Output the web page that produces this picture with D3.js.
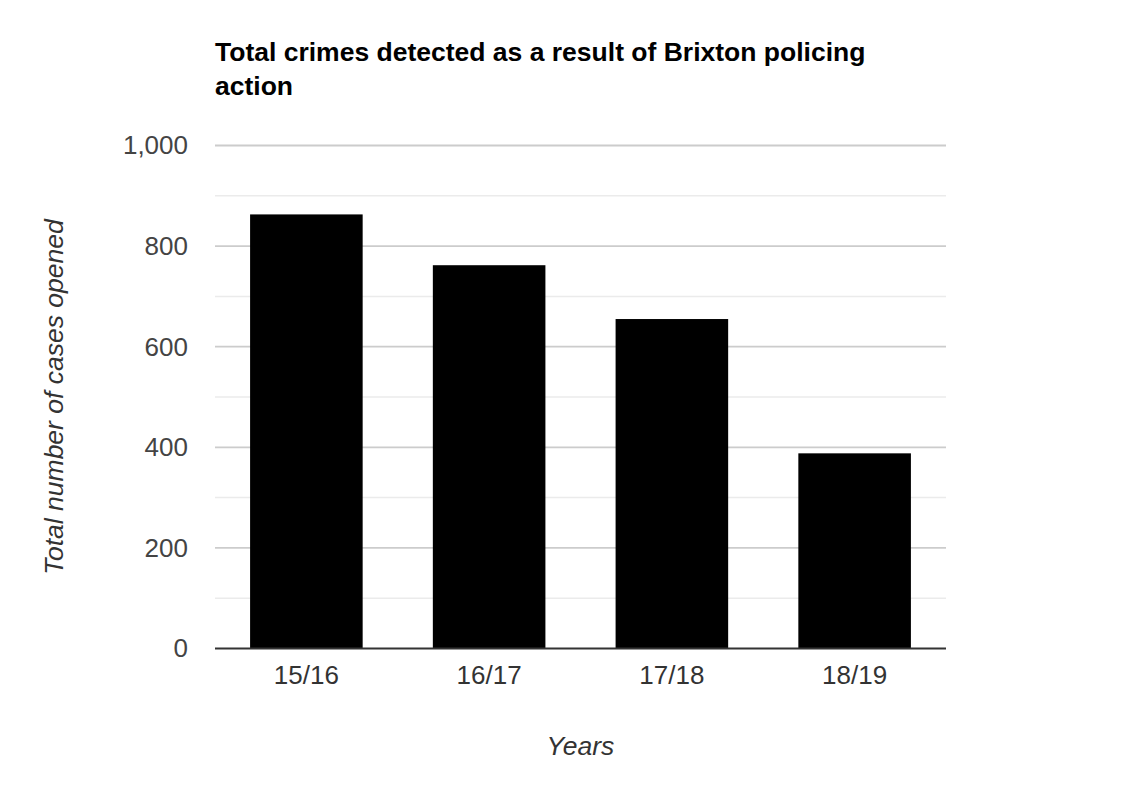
<!DOCTYPE html>
<html>
<head>
<meta charset="utf-8">
<script src="https://cdn.jsdelivr.net/npm/d3@7"></script>
<style>
  body { margin: 0; background: #fff; }
  text { font-family: "Liberation Sans", Arial, sans-serif; }
</style>
</head>
<body>
<div id="chart"></div>
<script>
// Data
const years = ["15/16", "16/17", "17/18", "18/19"];
const cases = [863, 762, 655, 388];
const majorTicks = [0, 200, 400, 600, 800, 1000];
const minorTicks = [100, 300, 500, 700, 900];

// Dimensions
const dimensions = {
  width: 1123,
  height: 794,
  left: 215,
  right: 946,
  top: 145.5,
  bottom: 648.5,
};

const svg = d3
  .select("#chart")
  .append("svg")
  .attr("width", dimensions.width)
  .attr("height", dimensions.height);

// Scales
const xScale = d3
  .scaleBand()
  .domain(years)
  .range([dimensions.left, dimensions.right])
  .paddingInner(0.384)
  .paddingOuter(0.192);

const yScale = d3
  .scaleLinear()
  .domain([0, 1000])
  .range([dimensions.bottom, dimensions.top]);

// Gridlines
svg
  .append("g")
  .selectAll("line")
  .data(minorTicks)
  .join("line")
  .attr("x1", dimensions.left)
  .attr("x2", dimensions.right)
  .attr("y1", (d) => yScale(d))
  .attr("y2", (d) => yScale(d))
  .attr("stroke", "#ebebeb")
  .attr("stroke-width", 1.5);

svg
  .append("g")
  .selectAll("line")
  .data(majorTicks.filter((d) => d > 0))
  .join("line")
  .attr("x1", dimensions.left)
  .attr("x2", dimensions.right)
  .attr("y1", (d) => yScale(d))
  .attr("y2", (d) => yScale(d))
  .attr("stroke", "#cccccc")
  .attr("stroke-width", 1.8);

// Bars
svg
  .append("g")
  .selectAll("rect")
  .data(cases)
  .join("rect")
  .attr("x", (d, i) => xScale(years[i]))
  .attr("width", xScale.bandwidth())
  .attr("y", (d) => yScale(d))
  .attr("height", (d) => yScale(0) - yScale(d))
  .attr("fill", "#000");

// Baseline
svg
  .append("line")
  .attr("x1", dimensions.left)
  .attr("x2", dimensions.right)
  .attr("y1", yScale(0))
  .attr("y2", yScale(0))
  .attr("stroke", "#333")
  .attr("stroke-width", 2);

// Y axis
const yAxis = d3
  .axisLeft(yScale)
  .tickValues(majorTicks)
  .tickSize(0)
  .tickPadding(27)
  .tickFormat(d3.format(","));

svg
  .append("g")
  .attr("transform", `translate(${dimensions.left},0)`)
  .call(yAxis)
  .call((g) => g.select(".domain").remove())
  .selectAll("text")
  .attr("font-size", 26)
  .attr("font-family", "Liberation Sans, Arial, sans-serif")
  .attr("fill", "#444");

// X axis
const xAxis = d3.axisBottom(xScale).tickSize(0).tickPadding(17);

svg
  .append("g")
  .attr("transform", `translate(0,${dimensions.bottom})`)
  .call(xAxis)
  .call((g) => g.select(".domain").remove())
  .selectAll("text")
  .attr("font-size", 26)
  .attr("font-family", "Liberation Sans, Arial, sans-serif")
  .attr("fill", "#333");

// Title
const title = svg
  .append("text")
  .attr("x", dimensions.left)
  .attr("y", 61)
  .attr("font-size", 26.5)
  .attr("font-weight", "bold")
  .attr("fill", "#000");
title.append("tspan").attr("x", dimensions.left).text("Total crimes detected as a result of Brixton policing");
title.append("tspan").attr("x", dimensions.left).attr("dy", 34).text("action");

// Axis titles
svg
  .append("text")
  .attr("x", (dimensions.left + dimensions.right) / 2)
  .attr("y", 755)
  .attr("text-anchor", "middle")
  .attr("font-size", 26.5)
  .attr("font-style", "italic")
  .attr("fill", "#333")
  .text("Years");

svg
  .append("text")
  .attr("transform", `translate(63,${(dimensions.top + dimensions.bottom) / 2}) rotate(-90)`)
  .attr("text-anchor", "middle")
  .attr("font-size", 26.5)
  .attr("font-style", "italic")
  .attr("fill", "#333")
  .text("Total number of cases opened");
</script>
</body>
</html>
